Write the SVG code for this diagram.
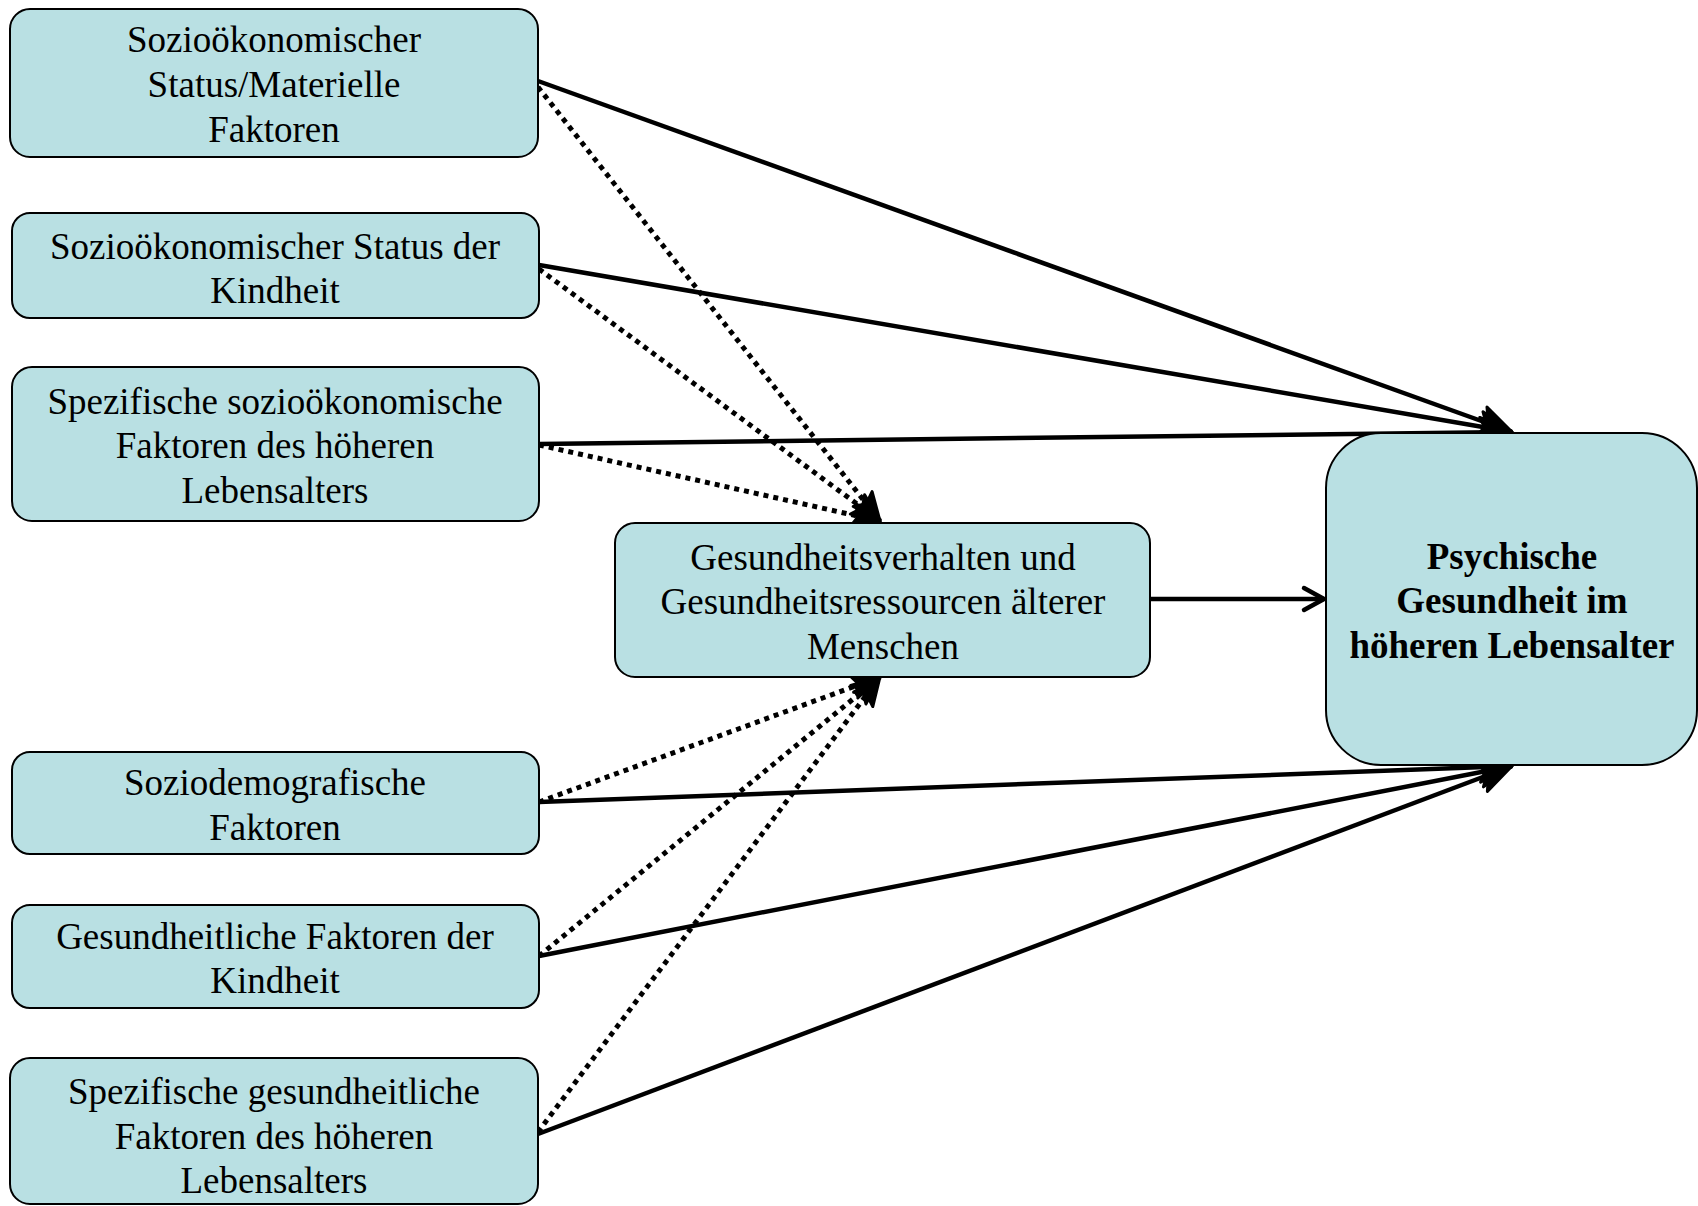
<svg xmlns="http://www.w3.org/2000/svg" width="1698" height="1206" viewBox="0 0 1698 1206">
<style>
.box{fill:#b9e0e3;stroke:#000;stroke-width:2}
.t{font-family:"Liberation Serif","Times New Roman",serif;font-size:37px;fill:#000;text-anchor:middle}
.b{font-weight:bold}
.solid{stroke:#000;stroke-width:4.5;fill:none}
.dot{stroke:#000;stroke-width:5;fill:none;stroke-dasharray:5 5}
</style>
<defs>
<marker id="ah" markerUnits="userSpaceOnUse" markerWidth="36" markerHeight="34" viewBox="0 0 36 34" refX="34" refY="17" orient="auto">
<path d="M2,2 L34,17 L2,32 L9,17 z" fill="#000" stroke="#000" stroke-width="3" stroke-linejoin="round"/>
</marker>
<marker id="ad" markerUnits="userSpaceOnUse" markerWidth="32" markerHeight="30" viewBox="0 0 32 30" refX="30" refY="15" orient="auto">
<path d="M2,3 L30,15 L2,27 L8,15 z" fill="#000" stroke="#000" stroke-width="3" stroke-linejoin="round"/>
</marker>
<marker id="ao" markerUnits="userSpaceOnUse" markerWidth="30" markerHeight="30" viewBox="0 0 30 30" refX="26" refY="15" orient="auto">
<path d="M6,4 L26,15 L6,26" fill="none" stroke="#000" stroke-width="4.5" stroke-linecap="round" stroke-linejoin="round"/>
</marker>
</defs>
<rect width="1698" height="1206" fill="#fff"/>
<g id="connectors">
<line class="dot" x1="538" y1="87" x2="880" y2="521" marker-end="url(#ad)"/>
<line class="dot" x1="539" y1="269" x2="880" y2="521" marker-end="url(#ad)"/>
<line class="dot" x1="539" y1="445" x2="880" y2="521" marker-end="url(#ad)"/>
<line class="dot" x1="539" y1="802" x2="880" y2="677" marker-end="url(#ad)"/>
<line class="dot" x1="539" y1="956" x2="880" y2="677" marker-end="url(#ad)"/>
<line class="dot" x1="538" y1="1132" x2="880" y2="677" marker-end="url(#ad)"/>
<line class="solid" x1="538" y1="81" x2="1512" y2="432" marker-end="url(#ah)"/>
<line class="solid" x1="539" y1="265" x2="1512" y2="432" marker-end="url(#ah)"/>
<line class="solid" x1="539" y1="444" x2="1512" y2="432" marker-end="url(#ah)"/>
<line class="solid" x1="539" y1="802" x2="1512" y2="766" marker-end="url(#ah)"/>
<line class="solid" x1="539" y1="956" x2="1512" y2="766" marker-end="url(#ah)"/>
<line class="solid" x1="538" y1="1134" x2="1512" y2="766" marker-end="url(#ah)"/>
<line class="solid" x1="1150" y1="599" x2="1324" y2="599" marker-end="url(#ao)"/>
</g>
<g id="n1"><rect class="box" x="10" y="9" width="528" height="148" rx="20"/>
<text class="t"><tspan x="274" y="52">Sozioökonomischer</tspan><tspan x="274" y="97">Status/Materielle</tspan><tspan x="274" y="142">Faktoren</tspan></text></g>
<g id="n2"><rect class="box" x="12" y="213" width="527" height="105" rx="18"/>
<text class="t"><tspan x="275" y="259">Sozioökonomischer Status der</tspan><tspan x="275" y="303">Kindheit</tspan></text></g>
<g id="n3"><rect class="box" x="12" y="367" width="527" height="154" rx="20"/>
<text class="t"><tspan x="275" y="414">Spezifische sozioökonomische</tspan><tspan x="275" y="458">Faktoren des höheren</tspan><tspan x="275" y="503">Lebensalters</tspan></text></g>
<g id="n4"><rect class="box" x="615" y="523" width="535" height="154" rx="20"/>
<text class="t"><tspan x="883" y="570">Gesundheitsverhalten und</tspan><tspan x="883" y="614">Gesundheitsressourcen älterer</tspan><tspan x="883" y="659">Menschen</tspan></text></g>
<g id="n5"><rect class="box" x="1326" y="433" width="371" height="332" rx="55"/>
<text class="t b"><tspan x="1512" y="569">Psychische</tspan><tspan x="1512" y="613">Gesundheit im</tspan><tspan x="1512" y="658">höheren Lebensalter</tspan></text></g>
<g id="n6"><rect class="box" x="12" y="752" width="527" height="102" rx="18"/>
<text class="t"><tspan x="275" y="795">Soziodemografische</tspan><tspan x="275" y="840">Faktoren</tspan></text></g>
<g id="n7"><rect class="box" x="12" y="905" width="527" height="103" rx="18"/>
<text class="t"><tspan x="275" y="949">Gesundheitliche Faktoren der</tspan><tspan x="275" y="993">Kindheit</tspan></text></g>
<g id="n8"><rect class="box" x="10" y="1058" width="528" height="146" rx="20"/>
<text class="t"><tspan x="274" y="1104">Spezifische gesundheitliche</tspan><tspan x="274" y="1149">Faktoren des höheren</tspan><tspan x="274" y="1193">Lebensalters</tspan></text></g>
</svg>
